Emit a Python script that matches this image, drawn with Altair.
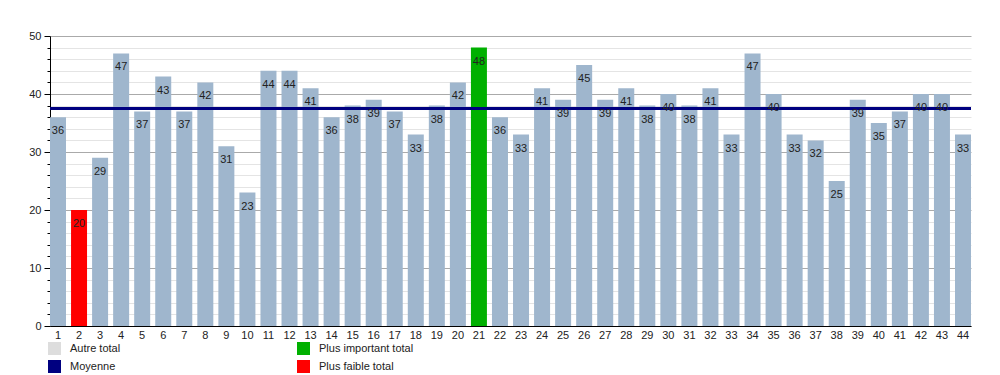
import altair as alt
import pandas as pd

numbers = list(range(1, 45))
values = [36, 20, 29, 47, 37, 43, 37, 42, 31, 23, 44, 44, 41, 36, 38, 39, 37, 33, 38, 42,
          48, 36, 33, 41, 39, 45, 39, 41, 38, 40, 38, 41, 33, 47, 40, 33, 32, 25, 39, 35,
          37, 40, 40, 33]
legend_labels = ["Autre total", "Moyenne", "Plus important total", "Plus faible total"]
legend_colors = ["#dddddd", "#000080", "#00b000", "#ff0000"]
bar_colors = ["#9fb6cd", "#00b000", "#ff0000"]
y_ticks = list(range(0, 51, 2))

vmax, vmin = max(values), min(values)
cats = ["Plus important total" if v == vmax else ("Plus faible total" if v == vmin else "Autre total")
        for v in values]
df = pd.DataFrame({"num": numbers, "value": values, "cat": cats})
leg = pd.DataFrame({"lab": legend_labels})

FONT = "Liberation Sans"

x = alt.X("num:O", title=None,
          scale=alt.Scale(paddingInner=0.24, paddingOuter=0),
          axis=alt.Axis(labelAngle=0, ticks=False, labelPadding=3, labelFontSize=11,
                        labelColor="#222222", domainColor="#000000", labelFont=FONT))
y = alt.Y("value:Q", title=None,
          scale=alt.Scale(domain=[0, 50], nice=False),
          axis=alt.Axis(values=y_ticks, tickCount=60,
                        labelExpr="datum.value % 10 == 0 ? datum.label : ''",
                        labelOverlap=False,
                        gridColor={"expr": "datum.value % 10 == 0 ? '#aaaaaa' : '#e4e4e4'"},
                        tickSize={"expr": "datum.value % 10 == 0 ? 6 : 3"},
                        tickColor="#000000", domainColor="#000000",
                        labelFontSize=11, labelColor="#222222", labelPadding=3,
                        labelFont=FONT))

bars = alt.Chart(df).mark_bar().encode(
    x=x, y=y,
    color=alt.Color("cat:N", legend=None,
                    scale=alt.Scale(domain=["Autre total", "Plus important total", "Plus faible total"],
                                    range=bar_colors)),
)

mean_rule = alt.Chart(df).mark_rule(color="#000080", strokeWidth=3).encode(
    y=alt.Y("mean(value):Q")
)

labels = alt.Chart(df).mark_text(baseline="middle", dy=14, fontSize=11, color="#222222",
                                 font=FONT).encode(
    x=alt.X("num:O"), y=alt.Y("value:Q"), text="value:Q"
)

legend_layer = alt.Chart(leg).mark_point(filled=True, shape="square", opacity=0).encode(
    fill=alt.Fill("lab:N",
                  scale=alt.Scale(domain=legend_labels, range=legend_colors),
                  legend=alt.Legend(title=None, orient="none", legendX=-2, legendY=306,
                                    columns=2, columnPadding=176, rowPadding=5,
                                    symbolType="square", symbolSize=169, symbolOpacity=1,
                                    symbolStrokeWidth=0, labelOffset=9, labelFontSize=11,
                                    labelColor="#222222", labelFont=FONT))
)

chart = alt.layer(bars, mean_rule, labels, legend_layer).resolve_scale(
    color="independent", fill="independent"
).properties(
    width=921, height=290,
    autosize=alt.AutoSizeParams(type="none"),
    padding={"left": 42, "top": 28, "right": 20, "bottom": 50},
).configure_view(stroke=None).configure_axis(domainWidth=1)

chart.save("out.html", embed_options={"renderer": "svg", "actions": False})
